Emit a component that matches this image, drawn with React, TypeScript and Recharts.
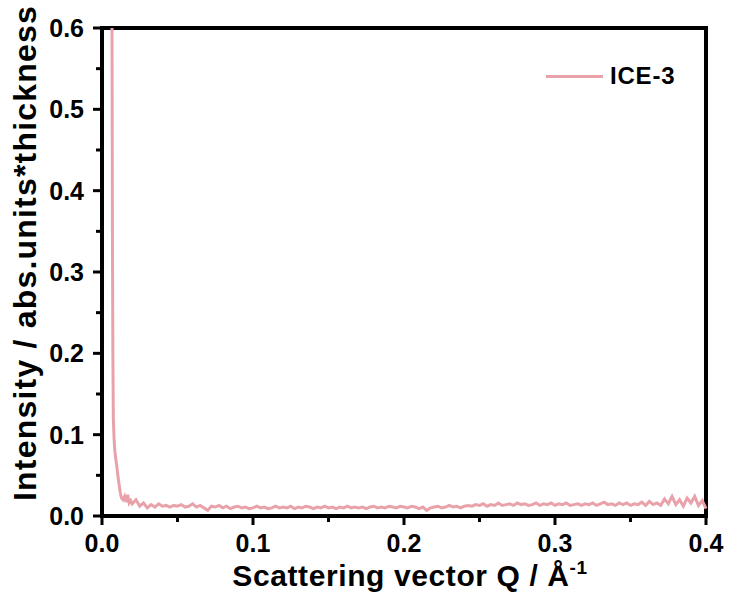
import React from 'react';
import { LineChart, Line, XAxis, YAxis, ReferenceArea, Legend } from 'recharts';

// Q grid (1/Å) and measured intensity for ICE-3
const qValues = [
  0.0062, 0.0066, 0.0069, 0.0072, 0.0075, 0.008, 0.0085, 0.009, 0.0095, 0.010, 0.0105,
  0.011, 0.0115, 0.012, 0.0125, 0.013, 0.014, 0.015, 0.016, 0.017, 0.018, 0.019,
  0.02, 0.0225, 0.025, 0.0275, 0.03, 0.0325, 0.035, 0.0375, 0.04, 0.0425,
  0.045, 0.0475, 0.05, 0.0525, 0.055, 0.0575, 0.06, 0.0625, 0.065, 0.0675,
  0.07, 0.0725, 0.075, 0.0775, 0.08, 0.0825, 0.085, 0.0875, 0.09, 0.0925,
  0.095, 0.0975, 0.1, 0.1025, 0.105, 0.1075, 0.11, 0.1125, 0.115, 0.1175,
  0.12, 0.1225, 0.125, 0.1275, 0.13, 0.1325, 0.135, 0.1375, 0.14, 0.1425,
  0.145, 0.1475, 0.15, 0.1525, 0.155, 0.1575, 0.16, 0.1625, 0.165, 0.1675,
  0.17, 0.1725, 0.175, 0.1775, 0.18, 0.1825, 0.185, 0.1875, 0.19, 0.1925,
  0.195, 0.1975, 0.2, 0.2025, 0.205, 0.2075, 0.21, 0.2125, 0.215, 0.2175,
  0.22, 0.2225, 0.225, 0.2275, 0.23, 0.2325, 0.235, 0.2375, 0.24, 0.2425,
  0.245, 0.2475, 0.25, 0.2525, 0.255, 0.2575, 0.26, 0.2625, 0.265, 0.2675,
  0.27, 0.2725, 0.275, 0.2775, 0.28, 0.2825, 0.285, 0.2875, 0.29, 0.2925,
  0.295, 0.2975, 0.3, 0.3025, 0.305, 0.3075, 0.31, 0.3125, 0.315, 0.3175,
  0.32, 0.3225, 0.325, 0.3275, 0.33, 0.3325, 0.335, 0.3375, 0.34, 0.3425,
  0.345, 0.3475, 0.35, 0.3525, 0.355, 0.3575, 0.36, 0.3625, 0.365, 0.3675,
  0.37, 0.3725, 0.375, 0.3775, 0.38, 0.3825, 0.385, 0.3875, 0.39, 0.3925,
  0.395, 0.3975, 0.4,
];

const intensity = [
  1.0, 0.62, 0.35, 0.2, 0.12, 0.095, 0.08, 0.072, 0.065, 0.058, 0.05,
  0.043, 0.036, 0.03, 0.025, 0.022, 0.02, 0.024, 0.017, 0.026, 0.016, 0.019,
  0.015, 0.020, 0.012, 0.016, 0.010, 0.014, 0.011, 0.015, 0.012, 0.013,
  0.011, 0.013, 0.012, 0.014, 0.011, 0.012, 0.015, 0.011, 0.013, 0.010,
  0.007, 0.012, 0.011, 0.013, 0.010, 0.012, 0.009, 0.011, 0.012, 0.010,
  0.011, 0.009, 0.010, 0.012, 0.010, 0.011, 0.009, 0.010, 0.012, 0.010,
  0.011, 0.010, 0.012, 0.009, 0.011, 0.010, 0.012, 0.011, 0.009, 0.011,
  0.010, 0.012, 0.010, 0.011, 0.009, 0.011, 0.010, 0.012, 0.010, 0.011,
  0.010, 0.011, 0.009, 0.011, 0.012, 0.010, 0.011, 0.010, 0.012, 0.011,
  0.010, 0.012, 0.011, 0.010, 0.012, 0.011, 0.009, 0.011, 0.007, 0.010,
  0.011, 0.012, 0.010, 0.011, 0.013, 0.011, 0.012, 0.010, 0.012, 0.013,
  0.012, 0.014, 0.013, 0.015, 0.012, 0.014, 0.013, 0.016, 0.013, 0.014,
  0.015, 0.013, 0.016, 0.014, 0.015, 0.013, 0.014, 0.016, 0.013, 0.015,
  0.014, 0.016, 0.013, 0.015, 0.014, 0.016, 0.013, 0.014, 0.015, 0.013,
  0.015, 0.014, 0.016, 0.013, 0.015, 0.017, 0.014, 0.015, 0.013, 0.016,
  0.014, 0.016, 0.013, 0.015, 0.014, 0.017, 0.013, 0.018, 0.014, 0.016,
  0.013, 0.021, 0.015, 0.024, 0.014, 0.020, 0.012, 0.022, 0.016, 0.024,
  0.013, 0.019, 0.009,
];

const xTicks = [0, 0.05, 0.1, 0.15, 0.2, 0.25, 0.3, 0.35, 0.4];
const yTicks = [0, 0.05, 0.1, 0.15, 0.2, 0.25, 0.3, 0.35, 0.4, 0.45, 0.5, 0.55, 0.6];

const seriesName = 'ICE-3';
const lineColor = '#e9a2aa';
const font = '"Liberation Sans", Arial, Helvetica, sans-serif';

const data = qValues.map((q, i) => ({ q, v: intensity[i] }));

const isMajor = (v: number) => Math.abs(v * 10 - Math.round(v * 10)) < 1e-6;

const XTick = ({ x, y, payload }: any) => {
  const major = isMajor(payload.value);
  return (
    <g>
      <line x1={x} y1={y} x2={x} y2={y + (major ? 9 : 6)} stroke="#000" strokeWidth={3} />
      {major && (
        <text x={x} y={y + 36} textAnchor="middle" fontSize={25} fontWeight="bold"
          fontFamily={font} fill="#000">
          {payload.value.toFixed(1)}
        </text>
      )}
    </g>
  );
};

const YTick = ({ x, y, payload }: any) => {
  const major = isMajor(payload.value);
  return (
    <g>
      <line x1={x} y1={y} x2={x - (major ? 9 : 6)} y2={y} stroke="#000" strokeWidth={3} />
      {major && (
        <text x={x - 18} y={y + 9} textAnchor="end" fontSize={25} fontWeight="bold"
          fontFamily={font} fill="#000">
          {payload.value.toFixed(1)}
        </text>
      )}
    </g>
  );
};

const XTitle = ({ viewBox }: any) => {
  const cx = viewBox.x + viewBox.width / 2 + 6;
  return (
    <text x={cx} y={viewBox.y + 70} textAnchor="middle" fontSize={30} fontWeight="bold"
      fontFamily={font} letterSpacing={0.6} fill="#000">
      Scattering vector Q / Å
      <tspan fontSize={19} dy={-12}>-1</tspan>
    </text>
  );
};

const YTitle = ({ viewBox }: any) => {
  const cy = viewBox.y + viewBox.height / 2 - 19;
  const x = 36;
  return (
    <text x={x} y={cy} transform={`rotate(-90, ${x}, ${cy})`} textAnchor="middle"
      fontSize={32} fontWeight="bold" fontFamily={font} letterSpacing={1.2} fill="#000">
      Intensity / abs.units*thickness
    </text>
  );
};

const LegendBox = () => (
  <div style={{ display: 'flex', alignItems: 'center', fontFamily: font }}>
    <div style={{ width: 57, height: 3, background: lineColor, marginRight: 7 }} />
    <span style={{ fontSize: 24, fontWeight: 'bold', letterSpacing: 0.8, color: '#000' }}>{seriesName}</span>
  </div>
);

// plot frame, sized by the reference area's scaled box
const Frame = ({ x, y, width, height }: any) => (
  <rect x={x} y={y} width={width} height={height} fill="none" stroke="#000" strokeWidth={4} />
);

export default function App() {
  return (
    <div style={{ position: 'absolute', left: 0, top: 0, width: 729, height: 615, background: '#fff' }}>
      <LineChart width={729} height={615} data={data}
        margin={{ top: 28, right: 23, left: 42, bottom: 59 }}>
        <XAxis dataKey="q" type="number" domain={[0, 0.4]} ticks={xTicks} interval={0}
          tick={<XTick />} tickLine={false} tickSize={0} tickMargin={0}
          height={40} axisLine={false}
          label={{ content: <XTitle /> }} />
        <YAxis type="number" domain={[0, 0.6]} ticks={yTicks} interval={0}
          allowDataOverflow tick={<YTick />} tickLine={false} tickSize={0} tickMargin={0}
          width={60} axisLine={false}
          label={{ content: <YTitle /> }} />
        <Legend content={<LegendBox />} layout="horizontal" align="center" verticalAlign="middle"
          wrapperStyle={{ position: 'absolute', top: 62, left: 546, width: 'auto' }} />
        <Line type="linear" dataKey="v" name={seriesName} stroke={lineColor} strokeWidth={3}
          dot={false} activeDot={false} isAnimationActive={false} />
        <ReferenceArea x1={0} x2={0.4} y1={0} y2={0.6} ifOverflow="visible" shape={<Frame />} />
      </LineChart>
    </div>
  );
}
